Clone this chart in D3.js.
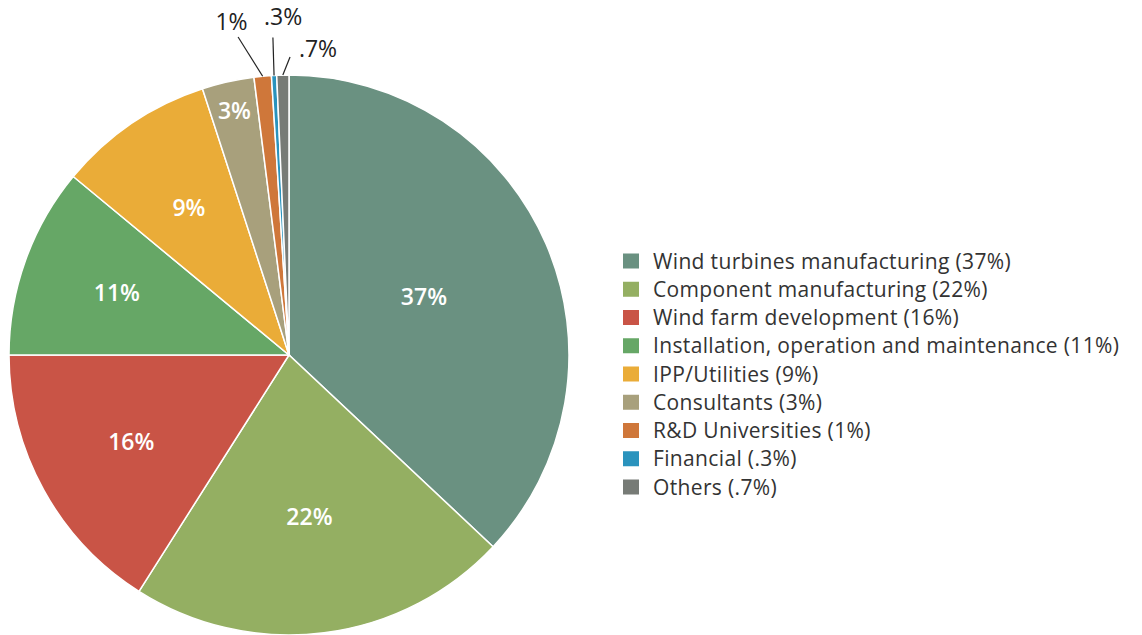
<!DOCTYPE html>
<html>
<head>
<meta charset="utf-8">
<script src="https://cdn.jsdelivr.net/npm/d3@7"></script>
<style>
  body { margin: 0; background: #fff; }
  text { font-family: "Open Sans", Lato, sans-serif; }
</style>
</head>
<body>
<div id="chart"></div>
<script>
// data
var categories = ["Wind turbines manufacturing", "Component manufacturing", "Wind farm development",
  "Installation, operation and maintenance", "IPP/Utilities", "Consultants", "R&D Universities",
  "Financial", "Others"];
var shares = [37, 22, 16, 11, 9, 3, 1, 0.3, 0.7];
var shareLabels = ["37%", "22%", "16%", "11%", "9%", "3%", "1%", ".3%", ".7%"];
var colors = ["#6a9181", "#94af62", "#c95446", "#66a766", "#eaac38", "#a8a07c", "#cf773a", "#2a93bd", "#777b76"];

// layout
var width = 1142, height = 635;
var cx = 289, cy = 355, radius = 280;
// label distance from centre for the inside labels
var insideR = [147, 163, 180, 183, 178, 250];
// outside labels: angle of leader end / label in degrees, radii
var outside = {
  6: {lineA: 350.9, lineR: 322, textA: 350.2, textR: 338},
  7: {lineA: 357.1, lineR: 318, textA: 359.0, textR: 338},
  8: {lineA: 0.2, lineR: 298, textA: 5.4, textR: 308}
};

var svg = d3.select("#chart").append("svg")
    .attr("width", width)
    .attr("height", height);

var g = svg.append("g")
    .attr("transform", "translate(" + cx + "," + cy + ")");

var pie = d3.pie().sort(null).value(d => d.value);
var arc = d3.arc().innerRadius(0).outerRadius(radius);

var data = categories.map((c, i) => ({name: c, value: shares[i], label: shareLabels[i], color: colors[i]}));
var arcs = pie(data);

g.selectAll("path.slice")
  .data(arcs).enter()
  .append("path")
    .attr("class", "slice")
    .attr("d", arc)
    .attr("fill", d => d.data.color)
    .attr("stroke", "#fff")
    .attr("stroke-width", 1.5);

function polar(r, a) {
  return [r * Math.sin(a), -r * Math.cos(a)];
}
var rad = Math.PI / 180;

// inside labels
g.selectAll("text.inside")
  .data(arcs.filter((d, i) => i < insideR.length)).enter()
  .append("text")
    .attr("class", "inside")
    .attr("transform", (d, i) => {
      var p = polar(insideR[i], (d.startAngle + d.endAngle) / 2);
      return "translate(" + p[0] + "," + p[1] + ")";
    })
    .attr("text-anchor", "middle")
    .attr("dy", "0.36em")
    .attr("fill", "#fff")
    .attr("font-weight", 600)
    .attr("font-size", 23)
    .text(d => d.data.label);

// outside labels with leader lines
arcs.forEach((d, i) => {
  var o = outside[i];
  if (!o) return;
  var mid = (d.startAngle + d.endAngle) / 2;
  var p0 = polar(radius, mid);
  var p1 = polar(o.lineR, o.lineA * rad);
  var pt = polar(o.textR, o.textA * rad);
  g.append("line")
    .attr("x1", p0[0]).attr("y1", p0[1])
    .attr("x2", p1[0]).attr("y2", p1[1])
    .attr("stroke", "#222")
    .attr("stroke-width", 1.2);
  g.append("text")
    .attr("x", pt[0]).attr("y", pt[1])
    .attr("text-anchor", "middle")
    .attr("dy", "0.36em")
    .attr("fill", "#222")
    .attr("font-size", 23)
    .text(d.data.label);
});

// legend
var legend = svg.append("g")
    .attr("transform", "translate(623,261)");

var rows = legend.selectAll("g.row")
  .data(data).enter()
  .append("g")
    .attr("class", "row")
    .attr("transform", (d, i) => "translate(0," + (i * 28.25) + ")");

rows.append("rect")
    .attr("x", 0).attr("y", -7.5)
    .attr("width", 16).attr("height", 15)
    .attr("fill", d => d.color);

rows.append("text")
    .attr("x", 30)
    .attr("dy", "0.36em")
    .attr("fill", "#333")
    .attr("font-size", 21)
    .attr("letter-spacing", 0.35)
    .text(d => d.name + " (" + d.label + ")");
</script>
</body>
</html>
